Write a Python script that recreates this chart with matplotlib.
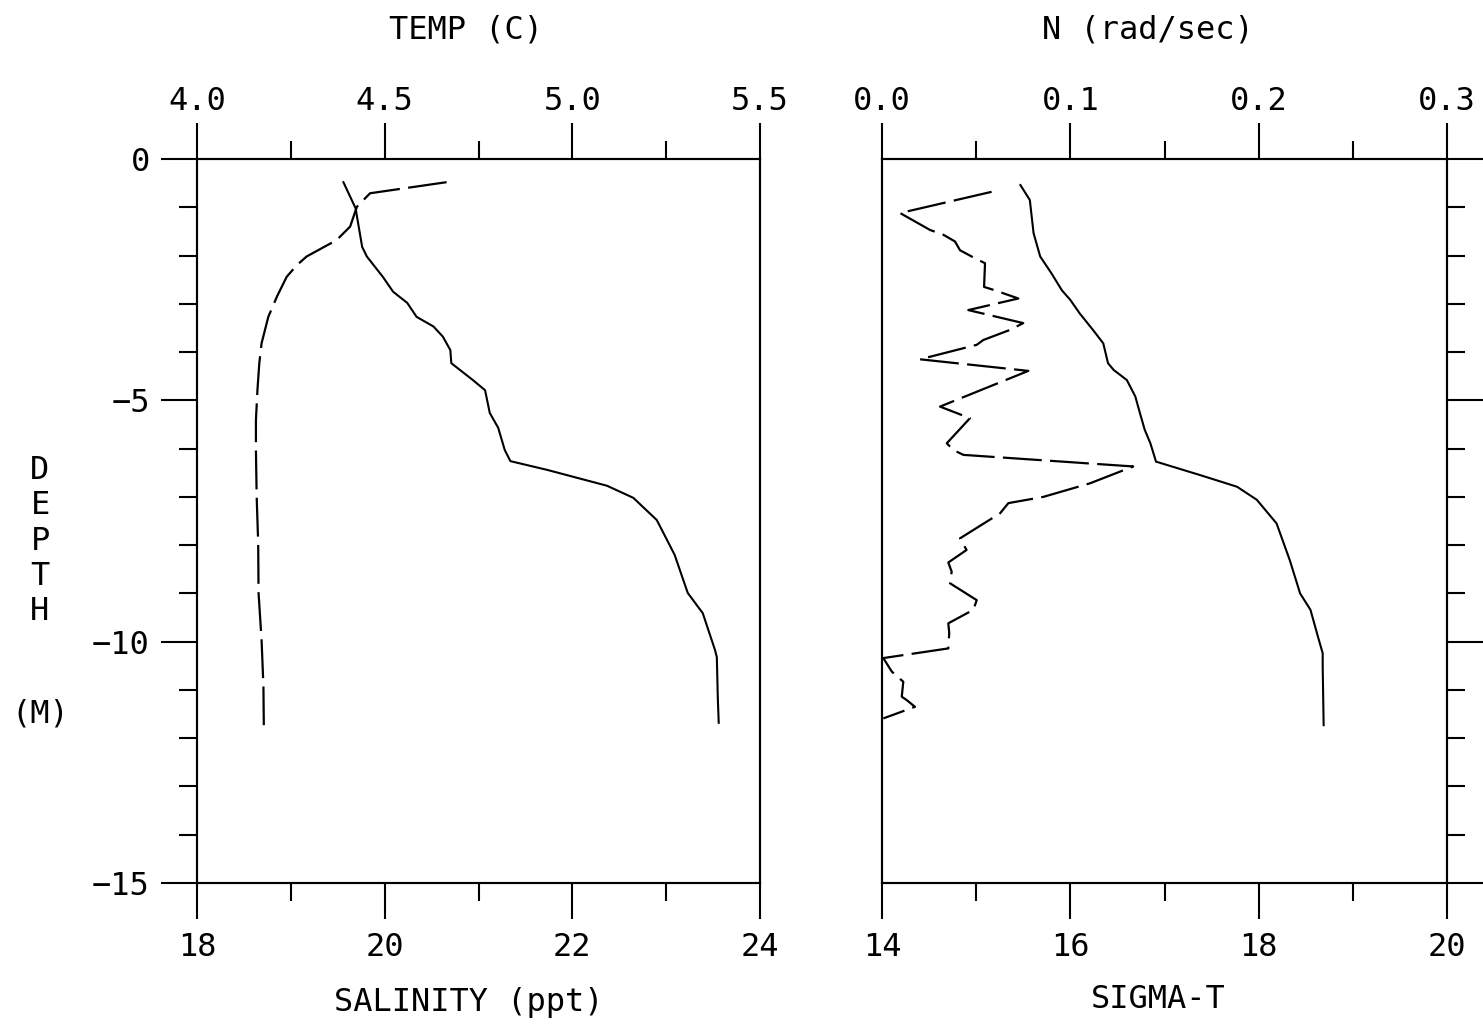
import matplotlib
matplotlib.use('Agg')
import matplotlib.pyplot as plt
from matplotlib.ticker import MultipleLocator

# left panel: salinity (solid, bottom axis) and temperature (dashed, top axis)
sal_depth = [-0.48, -1.02, -1.82, -2.02, -2.44, -2.75, -2.98, -3.27, -3.47, -3.68,
             -3.96, -4.23, -4.58, -4.79, -5.26, -5.57, -6.03, -6.26, -6.44, -6.77,
             -7.02, -7.48, -8.20, -8.99, -9.41, -10.17, -10.32, -11.15, -11.68]
salinity = [19.56, 19.69, 19.76, 19.81, 19.98, 20.09, 20.24, 20.34, 20.52, 20.62,
            20.70, 20.71, 20.94, 21.07, 21.12, 21.21, 21.28, 21.34, 21.73, 22.37,
            22.65, 22.90, 23.09, 23.23, 23.39, 23.52, 23.54, 23.55, 23.56]

temp_depth = [-0.48, -0.71, -0.99, -1.40, -1.68, -2.02, -2.20, -2.44, -2.85, -3.27,
              -3.82, -4.23, -4.79, -5.41, -6.03, -7.00, -7.96, -8.99, -9.96, -10.93,
              -11.73]
temp = [4.665, 4.461, 4.426, 4.408, 4.372, 4.292, 4.266, 4.239, 4.213, 4.190,
        4.172, 4.166, 4.161, 4.157, 4.157, 4.159, 4.163, 4.164, 4.172, 4.177,
        4.178]

# right panel: sigma-t (solid, bottom axis) and N (dashed, top axis)
sig_depth = [-0.54, -0.85, -1.20, -1.54, -2.02, -2.37, -2.72, -2.92, -3.20, -3.54,
             -3.82, -4.23, -4.37, -4.58, -4.92, -5.27, -5.61, -5.89, -6.27, -6.55,
             -6.79, -7.06, -7.55, -8.31, -9.00, -9.34, -9.90, -10.24, -10.52, -11.73]
sigma_t = [15.47, 15.57, 15.59, 15.61, 15.68, 15.80, 15.91, 16.00, 16.10, 16.24,
           16.35, 16.40, 16.46, 16.60, 16.69, 16.74, 16.79, 16.85, 16.91, 17.38,
           17.77, 17.98, 18.19, 18.33, 18.44, 18.55, 18.63, 18.68, 18.68, 18.69]

n_depth = [-0.68, -1.12, -1.47, -1.57, -1.71, -1.89, -2.02, -2.16, -2.65, -2.71,
           -2.89, -3.13, -3.40, -3.54, -3.75, -3.85, -4.15, -4.39, -5.13, -5.37,
           -5.89, -6.03, -6.13, -6.37, -6.72, -7.00, -7.13, -7.34, -7.86, -8.10,
           -8.36, -8.55, -8.79, -9.14, -9.34, -9.62, -9.82, -10.14, -10.34, -10.62,
           -10.83, -11.14, -11.21, -11.35, -11.59]
n_freq = [0.0582, 0.0096, 0.0255, 0.0326, 0.0388, 0.0414, 0.0476, 0.0547, 0.0542, 0.0591,
          0.0724, 0.0458, 0.0750, 0.0680, 0.0538, 0.0503, 0.0202, 0.0777, 0.0308, 0.0467,
          0.0344, 0.0379, 0.0432, 0.1334, 0.1104, 0.0857, 0.0671, 0.0627, 0.0414, 0.0449,
          0.0352, 0.0370, 0.0361, 0.0503, 0.0485, 0.0352, 0.0357, 0.0352, 0.0007, 0.0052,
          0.0113, 0.0105, 0.0131, 0.0175, 0.0007]

depth_ticks = [0, -5, -10, -15]
sal_ticks = [18, 20, 22, 24]
temp_ticks = [4.0, 4.5, 5.0, 5.5]
sig_ticks = [14, 16, 18, 20]
n_ticks = [0.0, 0.1, 0.2, 0.3]

plt.rcParams['font.family'] = ['DejaVu Sans Mono']
plt.rcParams['lines.scale_dashes'] = False

W, H = 1483, 1024
FS = 23
LW = 1.5

fig = plt.figure(figsize=(W / 100, H / 100), dpi=100)
ax1 = fig.add_axes([197 / W, 1 - 883 / H, 563 / W, 724 / H])
ax2 = fig.add_axes([882 / W, 1 - 883 / H, 565 / W, 724 / H])
ax1t = ax1.twiny()
ax2t = ax2.twiny()

ax1.plot(salinity, sal_depth, color='black', lw=1.5)
ax1t.plot(temp, temp_depth, color='black', lw=1.6, dashes=(28, 6))
ax2.plot(sigma_t, sig_depth, color='black', lw=1.5)
ax2t.plot(n_freq, n_depth, color='black', lw=1.6, dashes=(28, 6))

ax1.set_xlim(18, 24)
ax1t.set_xlim(4.0, 5.5)
ax2.set_xlim(14, 20)
ax2t.set_xlim(0.0, 0.3)
for ax in (ax1, ax2):
    ax.set_ylim(-15, 0)
    ax.set_yticks(depth_ticks)
    ax.yaxis.set_minor_locator(MultipleLocator(1))

ax1.set_xticks(sal_ticks)
ax1.set_xticklabels([str(v) for v in sal_ticks])
ax1.xaxis.set_minor_locator(MultipleLocator(1))
ax1t.set_xticks(temp_ticks)
ax1t.set_xticklabels(['%.1f' % v for v in temp_ticks])
ax1t.xaxis.set_minor_locator(MultipleLocator(0.25))
ax2.set_xticks(sig_ticks)
ax2.set_xticklabels([str(v) for v in sig_ticks])
ax2.xaxis.set_minor_locator(MultipleLocator(1))
ax2t.set_xticks(n_ticks)
ax2t.set_xticklabels(['%.1f' % v for v in n_ticks])
ax2t.xaxis.set_minor_locator(MultipleLocator(0.05))

for ax in (ax1, ax2, ax1t, ax2t):
    for s in ax.spines.values():
        s.set_linewidth(LW)
    ax.tick_params(which='major', direction='out', length=26, width=LW,
                   labelsize=FS, pad=8)
    ax.tick_params(which='minor', direction='out', length=13, width=LW)

ax1t.tick_params(axis='x', pad=4)
ax2t.tick_params(axis='x', pad=4)
ax1.tick_params(axis='x', pad=9)
ax2.tick_params(axis='x', pad=9)
ax1.yaxis.set_ticks_position('left')
ax1.tick_params(axis='y', pad=8)
ax2.yaxis.set_ticks_position('right')
ax2.tick_params(axis='y', labelright=False, labelleft=False)

fig.text(466 / W, 1 - 30 / H, 'TEMP (C)', ha='center', va='center', fontsize=FS)
fig.text(1148 / W, 1 - 30 / H, 'N (rad/sec)', ha='center', va='center', fontsize=FS)
fig.text(469 / W, 1 - 1003 / H, 'SALINITY (ppt)', ha='center', va='center', fontsize=FS)
fig.text(1158 / W, 1 - 1000 / H, 'SIGMA-T', ha='center', va='center', fontsize=FS)
fig.text(40 / W, 1 - 541 / H, 'D\nE\nP\nT\nH', ha='center', va='center',
         fontsize=FS, linespacing=1.17)
fig.text(40 / W, 1 - 714 / H, '(M)', ha='center', va='center', fontsize=FS)

fig.savefig('out.png', dpi=100, facecolor='white')
